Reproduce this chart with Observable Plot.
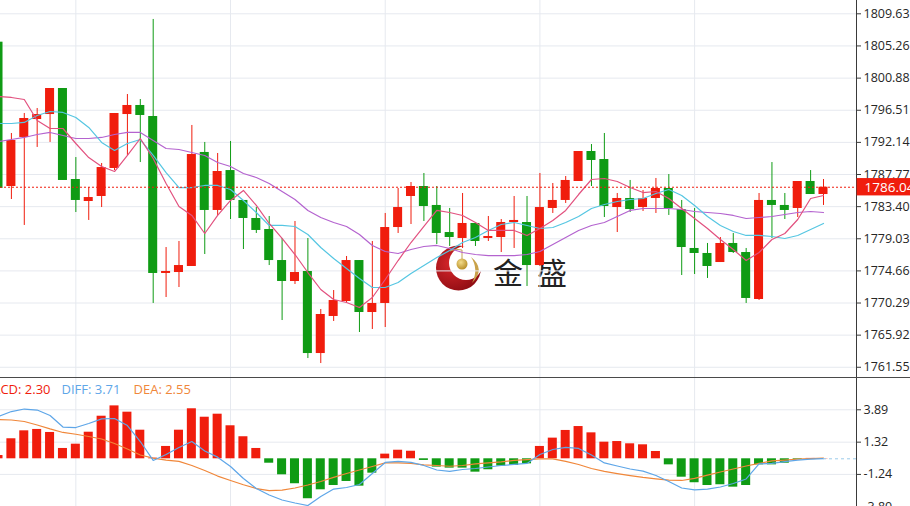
<!DOCTYPE html>
<html><head><meta charset="utf-8">
<script src="https://cdn.jsdelivr.net/npm/d3@7"></script>
<script src="https://cdn.jsdelivr.net/npm/@observablehq/plot@0.6"></script>
<style>
html,body{margin:0;padding:0;background:#fff;}
#wrap{position:relative;width:910px;height:506px;overflow:hidden;background:#fff;}
#main,#macd{position:relative;z-index:1;}
#main svg,#macd svg{display:block;background:transparent;}
#macd{border-top:1px solid #4a4a4a;}
#wm{position:absolute;left:430px;top:238px;z-index:0;}
</style></head>
<body>
<div id="wrap">
  <svg id="wm" width="150" height="60" viewBox="0 0 150 60">
    <defs>
      <radialGradient id="rg" cx="0.35" cy="0.4" r="0.7">
        <stop offset="0" stop-color="#d8262a"/><stop offset="1" stop-color="#8c0c12"/>
      </radialGradient>
      <radialGradient id="gg" cx="0.4" cy="0.35" r="0.7">
        <stop offset="0" stop-color="#f3dc8a"/><stop offset="1" stop-color="#b58a22"/>
      </radialGradient>
    </defs>
    <circle cx="28.5" cy="30" r="22.5" fill="url(#rg)"/>
    <circle cx="36" cy="25" r="17" fill="#fff"/>
    <line x1="32" y1="12" x2="32" y2="21" stroke="#c4a255" stroke-width="1"/>
    <path d="M20,13 Q26,10 32,12" stroke="#c4a255" stroke-width="1" fill="none"/>
    <circle cx="32" cy="26" r="5.5" fill="url(#gg)"/>
    <path d="M41,19 Q56,31 42,45 Q49,31 41,19 Z" fill="#c9a24a"/>
    <text x="63" y="46" font-family="Noto Sans CJK SC" font-size="30" fill="#222">金</text>
    <text x="107" y="46" font-family="Noto Sans CJK SC" font-size="30" fill="#222">盛</text>
  </svg>
  <div id="main"></div>
  <div id="macd"></div>
</div>
<script>
// ---- data ----
const opens  = [1805.77,1786.14,1792.81,1795.25,1795.93,1799.47,1787.09,1784.10,1784.78,1788.59,1795.93,1797.16,1795.66,1774.31,1774.44,1775.26,1790.77,1782.88,1788.31,1784.24,1781.79,1780.29,1776.07,1773.22,1774.58,1763.42,1768.46,1770.50,1776.07,1769.00,1770.23,1780.56,1784.78,1786.14,1783.56,1779.88,1779.07,1781.11,1779.07,1779.20,1781.24,1781.24,1775.39,1783.15,1784.24,1786.82,1790.90,1789.81,1783.28,1784.51,1783.28,1784.51,1785.87,1783.01,1777.71,1777.03,1775.80,1778.39,1777.16,1770.77,1784.24,1783.56,1783.15,1786.82,1785.05];
const highs  = [1806.00,1793.35,1796.07,1796.75,1799.47,1799.47,1790.08,1786.00,1789.27,1796.07,1798.65,1797.97,1808.86,1777.84,1778.66,1794.44,1792.13,1790.63,1792.26,1784.24,1783.28,1782.06,1779.07,1781.38,1779.07,1769.41,1771.99,1776.62,1776.07,1778.66,1782.47,1785.87,1786.68,1787.91,1786.14,1783.15,1785.19,1781.24,1782.06,1781.65,1784.78,1784.78,1787.91,1786.55,1787.50,1790.90,1791.85,1793.35,1785.19,1786.96,1785.60,1787.23,1787.77,1784.24,1783.15,1778.39,1779.20,1779.75,1777.71,1785.19,1789.40,1785.19,1786.82,1788.31,1787.09];
const lows   = [1785.60,1784.37,1780.84,1791.45,1792.13,1786.96,1782.60,1781.52,1783.28,1788.31,1790.36,1789.40,1770.23,1771.04,1772.40,1775.26,1776.89,1782.20,1781.65,1777.57,1779.75,1775.39,1767.91,1772.81,1762.74,1762.06,1767.78,1770.23,1766.28,1766.69,1766.96,1779.75,1780.97,1781.38,1778.25,1777.98,1777.71,1777.98,1778.66,1777.16,1777.71,1772.54,1775.26,1782.47,1783.83,1786.82,1786.14,1781.92,1779.88,1782.60,1782.74,1782.47,1782.20,1774.03,1774.17,1773.63,1775.80,1777.03,1770.23,1770.64,1779.07,1781.65,1781.92,1785.05,1783.56];
const closes = [1785.87,1792.40,1795.39,1795.93,1799.47,1786.96,1784.24,1784.64,1788.72,1796.07,1797.16,1795.80,1774.31,1774.58,1775.39,1790.49,1782.88,1788.18,1784.24,1781.79,1780.16,1776.07,1773.22,1774.44,1763.42,1768.73,1770.63,1776.07,1769.00,1770.23,1780.56,1783.28,1786.14,1783.42,1779.75,1779.20,1781.11,1778.66,1779.34,1781.24,1781.52,1775.39,1783.28,1784.24,1786.96,1790.90,1789.68,1783.42,1784.51,1783.01,1784.51,1785.87,1783.15,1777.84,1777.03,1775.26,1778.39,1777.16,1770.91,1784.24,1783.56,1782.88,1786.82,1785.05,1786.04];
const ma5  = [1798.38,1798.25,1797.97,1795.12,1794.03,1794.03,1791.99,1790.08,1788.86,1788.18,1790.36,1792.67,1789.95,1786.55,1783.42,1782.20,1779.75,1782.20,1784.24,1785.60,1783.56,1781.11,1779.07,1776.89,1774.44,1772.13,1770.77,1770.36,1769.68,1771.04,1773.49,1776.07,1778.52,1780.70,1782.88,1782.60,1782.20,1781.24,1780.16,1780.16,1780.16,1779.48,1780.43,1781.52,1782.88,1785.05,1787.09,1787.23,1786.82,1786.00,1785.32,1785.46,1784.51,1783.15,1781.79,1780.43,1778.93,1777.57,1776.07,1777.16,1778.93,1779.75,1781.65,1784.51,1784.92];
const ma10 = [1794.71,1794.71,1794.85,1795.80,1796.34,1796.21,1795.53,1794.17,1792.13,1791.04,1791.99,1792.53,1790.36,1788.04,1786.00,1786.00,1786.28,1786.28,1785.73,1784.24,1782.60,1780.84,1780.84,1780.70,1779.61,1777.84,1776.35,1774.99,1773.63,1772.40,1772.40,1773.08,1774.31,1775.39,1776.48,1777.43,1778.52,1779.20,1780.16,1780.97,1781.24,1780.84,1780.43,1780.56,1781.24,1782.06,1783.15,1783.69,1784.10,1784.37,1784.51,1785.19,1785.73,1784.92,1783.56,1782.06,1780.84,1780.02,1779.48,1779.48,1779.34,1779.07,1779.48,1780.29,1781.11];
const ma20 = [1792.26,1792.53,1792.81,1793.21,1793.49,1793.08,1792.67,1792.67,1792.81,1793.21,1793.49,1793.49,1792.40,1791.31,1791.17,1790.76,1790.36,1789.40,1788.86,1787.91,1787.36,1786.55,1785.46,1784.37,1782.88,1781.92,1781.24,1780.70,1779.61,1778.12,1777.30,1777.03,1777.57,1777.98,1778.12,1777.71,1777.16,1776.89,1776.75,1776.75,1776.75,1776.89,1777.30,1778.25,1779.20,1780.16,1780.84,1781.24,1782.06,1782.88,1783.15,1783.15,1783.15,1783.01,1782.74,1782.60,1782.47,1782.20,1781.79,1781.92,1782.06,1782.33,1782.60,1782.74,1782.60];
const macdHist = [0.26,1.59,2.22,2.33,2.09,0.82,1.16,2.11,3.38,4.20,3.70,2.27,0.05,0.98,2.27,3.97,3.30,3.54,2.62,1.75,0.82,-0.35,-1.27,-1.98,-3.17,-2.46,-2.12,-1.80,-2.17,-1.14,0.37,0.68,0.60,-0.13,-0.66,-0.74,-0.74,-1.06,-0.87,-0.58,-0.53,-0.40,0.98,1.64,2.25,2.56,2.06,1.32,1.37,1.19,1.11,0.58,-0.48,-1.46,-1.90,-2.12,-2.06,-2.25,-2.12,-0.48,-0.48,-0.35,-0.05,0.03,0.02];
const diffLine = [3.36,3.75,3.95,3.87,3.44,2.52,2.48,2.80,3.17,3.20,2.64,1.37,-0.13,0.34,0.90,1.37,0.62,0.13,-0.61,-1.56,-2.36,-2.87,-3.27,-3.51,-3.71,-2.99,-2.40,-2.28,-2.04,-1.17,-0.29,-0.21,-0.29,-0.53,-0.89,-1.00,-0.85,-0.77,-0.65,-0.53,-0.45,-0.37,0.34,0.74,0.90,0.82,0.30,-0.33,-0.57,-0.81,-0.98,-1.33,-1.80,-2.32,-2.46,-2.40,-2.24,-1.96,-1.60,-0.41,-0.36,-0.23,-0.11,-0.02,0.02];
const deaLine = [3.12,3.08,2.96,2.68,2.37,2.09,1.95,1.77,1.57,1.21,0.78,0.30,0.06,-0.10,-0.21,-0.53,-0.93,-1.37,-1.72,-2.06,-2.36,-2.52,-2.48,-2.32,-2.08,-1.80,-1.48,-1.17,-0.89,-0.61,-0.32,-0.32,-0.37,-0.48,-0.53,-0.59,-0.53,-0.41,-0.33,-0.25,-0.13,-0.06,0.00,0.00,-0.21,-0.45,-0.77,-1.00,-1.17,-1.33,-1.48,-1.59,-1.70,-1.72,-1.56,-1.29,-1.05,-0.81,-0.57,-0.37,-0.17,-0.10,-0.02,0.02,0.05];
const priceTicks = [1809.63,1805.26,1800.88,1796.51,1792.14,1787.77,1783.40,1779.03,1774.66,1770.29,1765.92,1761.55];
const macdTicks = [3.89,1.32,-1.24,-3.80];
const vGridIdx = [6,18,30,42,54];
const legendTexts = ["MACD: 2.30","DIFF: 3.71","DEA: 2.55"];

// ---- build ----
const RED = "#f01d0d", GREEN = "#0f9b14";
const GRID = "#e6e9ef", AXIS = "#3a3a3a";
const FONT = "'Open Sans', 'Liberation Sans', sans-serif";
const xDomain = [0.155, 66.56];
const lastIdx = closes.length - 1;
const lastClose = closes[lastIdx];

const candles = opens.map((o, i) => ({i, o, h: highs[i], l: lows[i], c: closes[i]}));
const ups = candles.filter(d => d.c >= d.o);
const downs = candles.filter(d => d.c < d.o);
const lineData = arr => arr.map((v, i) => ({i, v}));
const bw = 0.35;

const common = {
  width: 910, marginLeft: 0, marginRight: 54, marginTop: 0, marginBottom: 0,
  x: {domain: xDomain, axis: null},
  style: {background: "transparent", fontFamily: FONT, color: "#262626"}
};

const main = Plot.plot({
  ...common,
  height: 377,
  y: {domain: [1760.16, 1811.44], axis: null},
  marks: [
    Plot.gridY(priceTicks, {stroke: GRID, strokeOpacity: 1}),
    Plot.ruleX(vGridIdx, {stroke: GRID}),
    Plot.ruleX(ups, {x: "i", y1: "l", y2: "h", stroke: RED, clip: true}),
    Plot.ruleX(downs, {x: "i", y1: "l", y2: "h", stroke: GREEN, clip: true}),
    Plot.rect(ups, {x1: d => d.i - bw, x2: d => d.i + bw, y1: "o", y2: "c", fill: RED, clip: true}),
    Plot.rect(downs, {x1: d => d.i - bw, x2: d => d.i + bw, y1: "o", y2: "c", fill: GREEN, clip: true}),
    Plot.line(lineData(ma20), {x: "i", y: "v", stroke: "#b463cf", strokeWidth: 1.2, clip: true}),
    Plot.line(lineData(ma10), {x: "i", y: "v", stroke: "#55c6e2", strokeWidth: 1.2, clip: true}),
    Plot.line(lineData(ma5), {x: "i", y: "v", stroke: "#e2517f", strokeWidth: 1.2, clip: true}),
    Plot.ruleY([lastClose], {stroke: RED, strokeDasharray: "2,2", strokeWidth: 1}),
    Plot.ruleX([xDomain[1]], {stroke: AXIS, strokeWidth: 1}),
    Plot.axisY(priceTicks, {anchor: "right", label: null, tickSize: 4, tickPadding: 3, tickFormat: d => d.toFixed(2), fontSize: 12.5, stroke: AXIS}),
    Plot.rect([lastClose], {x1: () => xDomain[1] + 0.05, x2: () => 72, y1: d => d - 1.18, y2: d => d + 1.18, fill: RED}),
    Plot.text([lastClose], {x: () => xDomain[1], y: d => d, text: d => d.toFixed(2), textAnchor: "start", dx: 8, fill: "white", fontSize: 13.5})
  ]
});
document.getElementById("main").append(main);

const pos = lineData(macdHist).filter(d => d.v >= 0);
const neg = lineData(macdHist).filter(d => d.v < 0);
const legendColors = [RED, "#5ea6e8", "#f0873a"];
const legendDx = [-20, 61, 133];

const macd = Plot.plot({
  ...common,
  height: 128,
  y: {domain: [-3.786, 6.373], axis: null},
  marks: [
    Plot.gridY(macdTicks, {stroke: GRID, strokeOpacity: 1}),
    Plot.ruleX(vGridIdx, {stroke: GRID}),
    Plot.rect(pos, {x1: d => d.i - bw, x2: d => d.i + bw, y1: 0, y2: "v", fill: RED, clip: true}),
    Plot.rect(neg, {x1: d => d.i - bw, x2: d => d.i + bw, y1: 0, y2: "v", fill: GREEN, clip: true}),
    Plot.line(lineData(deaLine), {x: "i", y: "v", stroke: "#f0873a", strokeWidth: 1.2, clip: true}),
    Plot.line(lineData(diffLine), {x: "i", y: "v", stroke: "#5ea6e8", strokeWidth: 1.2, clip: true}),
    Plot.ruleY([0], {x1: () => lastIdx, x2: () => xDomain[1], stroke: "#9ccbea", strokeDasharray: "3,3"}),
    Plot.ruleX([xDomain[1]], {stroke: AXIS, strokeWidth: 1}),
    Plot.axisY(macdTicks, {anchor: "right", label: null, tickSize: 4, tickPadding: 3, tickFormat: d => d.toFixed(2), fontSize: 12.5, stroke: AXIS}),
    ...legendTexts.map((t, k) => Plot.text([t], {frameAnchor: "top-left", text: d => d, dx: legendDx[k], dy: 11, lineAnchor: "middle", textAnchor: "start", fill: legendColors[k], fontSize: 13}))
  ]
});
document.getElementById("macd").append(macd);
</script>
</body></html>
